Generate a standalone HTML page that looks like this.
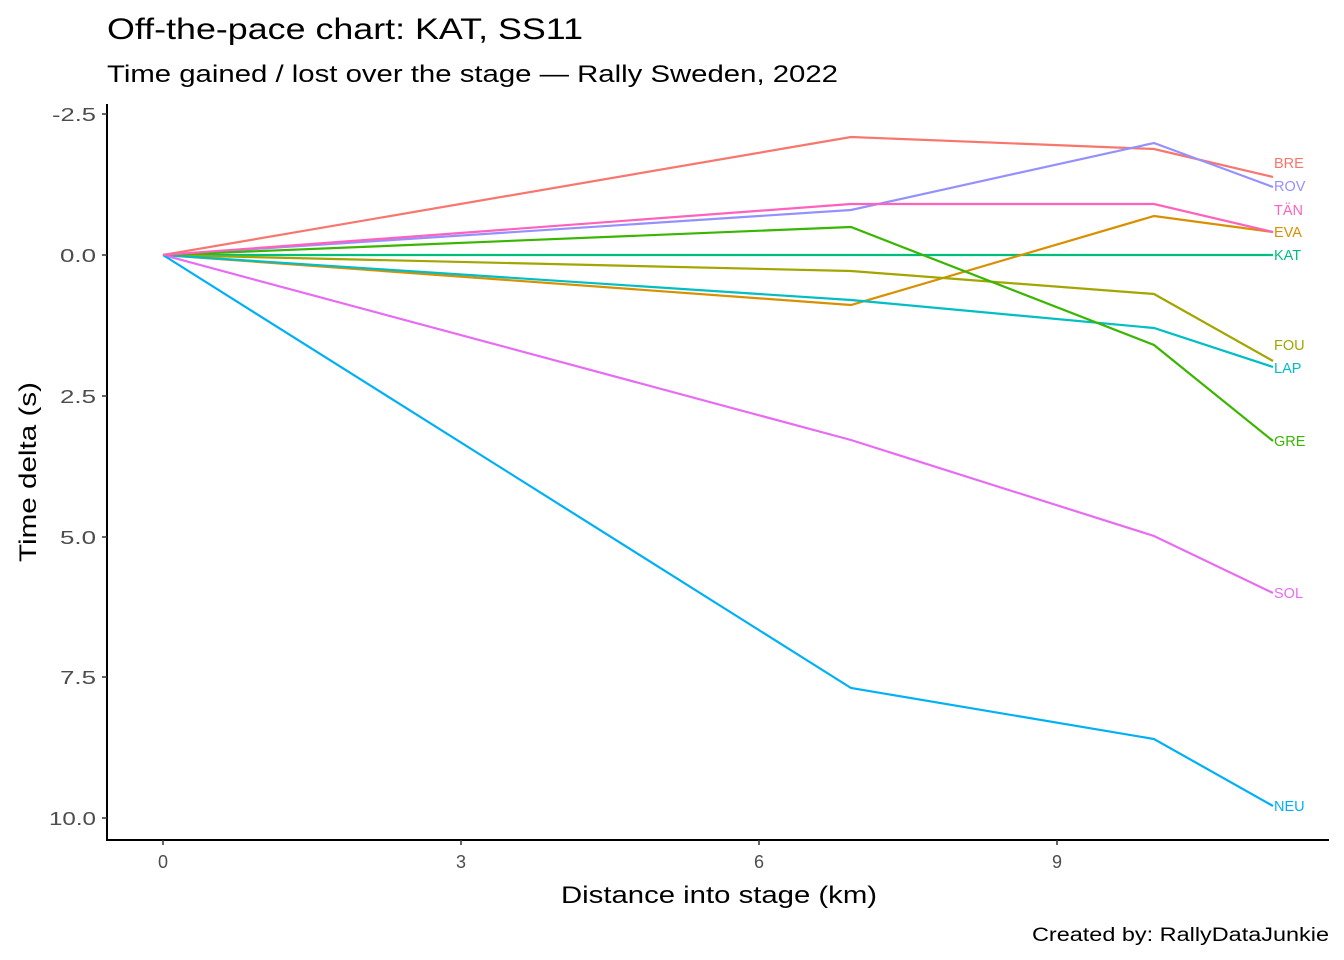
<!DOCTYPE html>
<html><head><meta charset="utf-8"><style>
html,body{margin:0;padding:0;background:#fff;}
svg{display:block;font-family:"Liberation Sans",Arial,sans-serif;}
</style></head><body>
<svg width="1344" height="960" viewBox="0 0 1344 960" xmlns="http://www.w3.org/2000/svg">
<rect width="1344" height="960" fill="#fff"/>
<text x="107" y="39" font-size="30" fill="#000" textLength="476" lengthAdjust="spacingAndGlyphs">Off-the-pace chart: KAT, SS11</text>
<text x="107" y="82" font-size="24" fill="#000" textLength="731" lengthAdjust="spacingAndGlyphs">Time gained / lost over the stage — Rally Sweden, 2022</text>
<line x1="107" y1="104" x2="107" y2="841" stroke="#000" stroke-width="2"/>
<line x1="106" y1="840" x2="1329" y2="840" stroke="#000" stroke-width="2"/>
<g stroke="#333" stroke-width="1.5">
<line x1="102" y1="114" x2="107" y2="114"/><line x1="102" y1="255" x2="107" y2="255"/>
<line x1="102" y1="396" x2="107" y2="396"/><line x1="102" y1="537" x2="107" y2="537"/>
<line x1="102" y1="677" x2="107" y2="677"/><line x1="102" y1="818" x2="107" y2="818"/>
<line x1="163" y1="840" x2="163" y2="845"/><line x1="461" y1="840" x2="461" y2="845"/>
<line x1="759" y1="840" x2="759" y2="845"/><line x1="1057" y1="840" x2="1057" y2="845"/>
</g>
<g font-size="18" fill="#4d4d4d">
<text x="52" y="121" textLength="44" lengthAdjust="spacingAndGlyphs">-2.5</text>
<text x="60" y="262" textLength="36" lengthAdjust="spacingAndGlyphs">0.0</text>
<text x="60" y="403" textLength="36" lengthAdjust="spacingAndGlyphs">2.5</text>
<text x="60" y="544" textLength="36" lengthAdjust="spacingAndGlyphs">5.0</text>
<text x="60" y="684" textLength="36" lengthAdjust="spacingAndGlyphs">7.5</text>
<text x="49" y="825" textLength="47" lengthAdjust="spacingAndGlyphs">10.0</text>
</g>
<g font-size="18" fill="#4d4d4d" text-anchor="middle">
<text x="163" y="868">0</text><text x="461" y="868">3</text><text x="759" y="868">6</text><text x="1057" y="868">9</text>
</g>
<text x="561" y="903" font-size="24" fill="#000" textLength="316" lengthAdjust="spacingAndGlyphs">Distance into stage (km)</text>
<text transform="translate(36,562) rotate(-90)" font-size="24" fill="#000" textLength="180" lengthAdjust="spacingAndGlyphs">Time delta (s)</text>
<text x="1032" y="941" font-size="19" fill="#000" textLength="297" lengthAdjust="spacingAndGlyphs">Created by: RallyDataJunkie</text>
<g fill="none" stroke-width="2.2">
<polyline stroke="#00BF7D" points="163,255 851,255 1154,255 1273,255"/>
<polyline stroke="#F8766D" points="163,255 851,137 1154,149 1273,177"/>
<polyline stroke="#9590FF" points="163,255 851,210 1154,143 1273,187"/>
<polyline stroke="#D89000" points="163,255 851,305 1154,216 1273,232"/>
<polyline stroke="#A3A500" points="163,255 851,271 1154,294 1273,361"/>
<polyline stroke="#00BFC4" points="163,255 851,300 1154,328 1273,367"/>
<polyline stroke="#39B600" points="163,255 851,227 1154,345 1273,441"/>
<polyline stroke="#E76BF3" points="163,255 851,440 1154,536 1273,593"/>
<polyline stroke="#00B0F6" points="163,255 851,688 1154,739 1273,806"/>
<polyline stroke="#FF62BC" points="163,255 851,204 1154,204 1273,232"/>
</g>
<g font-size="14.5">
<text x="1274" y="168" fill="#F8766D">BRE</text>
<text x="1274" y="191" fill="#9590FF">ROV</text>
<text x="1274" y="215" fill="#FF62BC">TÄN</text>
<text x="1274" y="237" fill="#D89000">EVA</text>
<text x="1274" y="260" fill="#00BF7D">KAT</text>
<text x="1274" y="350" fill="#A3A500">FOU</text>
<text x="1274" y="373" fill="#00BFC4">LAP</text>
<text x="1274" y="446" fill="#39B600">GRE</text>
<text x="1274" y="598" fill="#E76BF3">SOL</text>
<text x="1274" y="811" fill="#00B0F6">NEU</text>
</g>
</svg>
</body></html>
